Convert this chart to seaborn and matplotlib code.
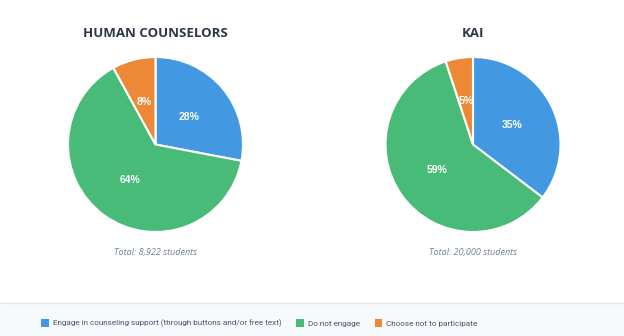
import matplotlib
matplotlib.use("Agg")
import matplotlib.pyplot as plt
import seaborn as sns
from matplotlib.patches import Rectangle
from matplotlib.lines import Line2D

categories = ["Engage in counseling support (through buttons and/or free text)",
              "Do not engage", "Choose not to participate"]
human_values = [28, 64, 8]
kai_values = [35, 59, 5]
titles = ["HUMAN COUNSELORS", "KAI"]
totals = ["Total: 8,922 students", "Total: 20,000 students"]

sns.set_theme(style="white")
plt.rcParams['font.family'] = ['Open Sans', 'DejaVu Sans']
colors = sns.color_palette(["#4299e1", "#48bb78", "#ed8936"])

W, H = 624, 336
fig = plt.figure(figsize=(W / 100, H / 100), dpi=100)
fig.patch.set_facecolor("white")

# legend band
fig.add_artist(Rectangle((0, 0), 1, (H - 303) / H, transform=fig.transFigure,
                         facecolor="#f7fafc", edgecolor="none", zorder=0))
fig.add_artist(Line2D([0, 1], [(H - 303) / H] * 2, transform=fig.transFigure,
                      color="#e2e8f0", lw=1, zorder=1))

r = 87.5
centers = [(155.5, 144.5), (473, 144.5)]
for (cx, cy), vals, title, total in zip(centers, [human_values, kai_values], titles, totals):
    ax = fig.add_axes([(cx - r) / W, (H - cy - r) / H, 2 * r / W, 2 * r / H])
    it = iter(vals)
    wedges, texts, autotexts = ax.pie(
        vals, colors=colors, startangle=90, counterclock=False,
        autopct=lambda p, it=it: f"{next(it)}%", pctdistance=0.5,
        wedgeprops=dict(edgecolor="white", linewidth=1.5),
        textprops=dict(color="white", fontweight="bold", fontsize=7.5,
                       family=["Liberation Sans", "DejaVu Sans"]))
    ax.set_aspect("equal")
    ax.set_xlim(-1, 1)
    ax.set_ylim(-1, 1)
    fig.text(cx / W, 1 - 33.5 / H, title, ha="center", va="center",
             fontsize=9.5, fontweight="bold", color="#2d3748")
    fig.text(cx / W, 1 - 253 / H, total, ha="center", va="center",
             fontsize=6.5, style="italic", color="#718096")

handles = [Rectangle((0, 0), 1, 1, facecolor=c, edgecolor="none") for c in colors]
fig.legend(handles, categories, loc="center left", bbox_to_anchor=(41 / W, 1 - 323 / H),
           ncol=3, frameon=False, borderpad=0, borderaxespad=0,
           prop=dict(family=["Roboto", "DejaVu Sans"], size=5.85),
           handlelength=0.95, handleheight=1.3,
           handletextpad=0.5, columnspacing=1.8, labelcolor="#4a5568")

fig.savefig("out.png", dpi=100)
